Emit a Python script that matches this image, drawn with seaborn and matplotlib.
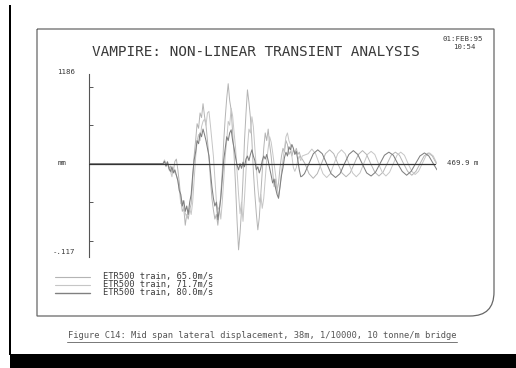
import numpy as np
import pandas as pd
import seaborn as sns
import matplotlib.pyplot as plt
from matplotlib.path import Path
from matplotlib.patches import PathPatch, Rectangle

# ---- data (distance along track in m, mid span lateral displacement) ----
lead_x = [0.0]
lead_y = [0.0]

# forced part, sampled every 2 m from 100 m to 288 m
forced_x = np.arange(100, 290, 2)

s65_forced = [0, .004, -.002, .003, -.006, -.003, -.012, -.009, .003, .006,
              -.008, -.025, -.045, -.062, -.058, -.080, -.066, -.072, -.060, -.052,
              -.020, .010, .030, .052, .046, .066, .060, .078, .062, .050,
              .030, .008, -.020, -.045, -.060, -.072, -.066, -.080, -.062, -.040,
              -.010, .030, .060, .085, .104, .082, .070, .040, .010, -.030,
              -.075, -.112, -.090, -.060, -.020, .030, .065, .096, .080, .060,
              .030, -.010, -.040, -.065, -.086, -.070, -.040, -.010, .020, .040,
              .030, .045, .025, .010, -.010, -.030, -.020, -.035, -.025, -.005,
              .010, .020, .015, .030, .025, .012, .016, .010, .018, .014,
              .020, .012, .015, .008, .006]

s71_forced = [0, .005, -.004, .002, -.008, -.010, -.017, -.005, -.012, -.015,
              -.022, -.035, -.052, -.048, -.060, -.064, -.070, -.062, -.058, -.066,
              -.050, -.020, .008, .030, .038, .030, .048, .055, .058, .050,
              .066, .068, .050, .030, .010, -.020, -.048, -.060, -.056, -.072,
              -.050, -.020, .010, .030, .055, .050, .072, .062, .040, .020,
              -.010, -.040, -.065, -.050, -.075, -.045, -.010, .020, .045, .040,
              .061, .048, .020, -.005, -.030, -.050, -.040, -.058, -.045, -.020,
              .005, .020, .035, .028, .015, .000, -.015, -.030, -.043, -.030,
              -.010, .005, .020, .035, .040, .030, .025, .010, -.005, -.010,
              -.005, .005, .010, .004, .010]

s80_forced = [0, .003, -.003, .002, -.006, -.010, -.004, -.012, -.008, -.015,
              -.022, -.035, -.040, -.055, -.048, -.062, -.055, -.066, -.050, -.040,
              -.015, .005, .015, .030, .026, .040, .035, .045, .038, .030,
              .020, .010, -.010, -.030, -.045, -.055, -.050, -.073, -.060, -.045,
              -.020, .005, .020, .035, .030, .040, .044, .030, .020, .008,
              -.002, -.008, .000, -.006, .002, -.004, .006, .010, .004, .012,
              .018, .010, .004, -.008, -.004, -.012, -.006, .004, .010, .006,
              .012, .004, -.006, -.015, -.025, -.020, -.032, -.040, -.045, -.030,
              -.015, -.005, .008, .015, .010, .022, .018, .025, .020, .012,
              .016, .005, -.008, -.017, -.016]

# free vibration after the train has left
s65_free_x = [291.7, 297.2, 302.8, 308.3, 313.9, 319.4, 325.0, 330.5, 336.1, 341.6,
              347.2, 352.7, 358.3, 363.8, 369.4, 374.9, 380.5, 386.0, 391.6, 397.1,
              402.7, 408.2, 413.8, 419.3, 424.9, 430.4, 436.0, 441.5, 447.1, 452.6,
              458.2, 463.7, 469.3]
s65_free_y = [0, -.013, -.019, -.013, 0, .013, .018, .013, 0, -.012,
              -.017, -.012, 0, .012, .017, .012, 0, -.011, -.016, -.011,
              0, .011, .015, .011, 0, -.010, -.015, -.010, 0, .010,
              .014, .010, 0]

s71_free_x = [296, 301, 306, 311, 316, 321, 326, 331, 336, 341,
              346, 351, 356, 361, 366, 371, 376, 381, 386, 391,
              396, 401, 406, 411, 416, 421, 426, 431, 436, 440.5,
              445, 450, 455, 460, 465, 470]
s71_free_y = [.013, .019, .013, 0, -.013, -.018, -.013, 0, .013, .018,
              .013, 0, -.012, -.017, -.012, 0, .012, .016, .012, 0,
              -.011, -.016, -.011, 0, .011, .015, .011, 0, -.010, -.014,
              -.010, 0, .010, .014, .010, 0]

s80_free_x = [291, 297, 303, 309, 315, 321, 327, 333, 339, 345,
              351, 357, 363, 369, 375, 381, 387, 393, 399, 405,
              411, 417, 423, 429, 435, 441, 447, 453, 459, 465, 470]
s80_free_y = [-.013, 0, .013, .018, .013, 0, -.013, -.018, -.013, 0,
              .012, .017, .012, 0, -.012, -.016, -.011, 0, .011, .015,
              .011, 0, -.010, -.015, -.010, 0, .010, .014, .010, 0, -.008]

labels = ['ETR500 train, 65.0m/s', 'ETR500 train, 71.7m/s', 'ETR500 train, 80.0m/s']
colors = ['#b4b4b4', '#c6c6c6', '#808080']
widths = [0.7, 0.7, 0.75]

y_ticks = [-0.1, -0.05, 0.05, 0.1]


def build(forced, free_x, free_y):
    x = np.concatenate([lead_x, forced_x, free_x])
    y = np.concatenate([lead_y, forced, free_y])
    return pd.DataFrame({'x': x, 'y': y})


series = [build(s65_forced, s65_free_x, s65_free_y),
          build(s71_forced, s71_free_x, s71_free_y),
          build(s80_forced, s80_free_x, s80_free_y)]

sns.set_style("white")
plt.rcParams['font.family'] = ['DejaVu Sans Mono', 'DejaVu Sans']

W, H = 516, 368
fig = plt.figure(figsize=(W / 100, H / 100), dpi=100)

# overlay in pixel coordinates for the page decorations
page = fig.add_axes([0, 0, 1, 1])
page.set_xlim(0, W)
page.set_ylim(H, 0)
page.axis('off')

page.add_patch(Rectangle((9, 5), 2, 350, color='black', lw=0))
page.add_patch(Rectangle((10, 354), 506, 14, color='black', lw=0))

frame = Path([(37, 29), (494, 29), (494, 292), (494, 316), (470, 316), (37, 316), (37, 29)],
             [Path.MOVETO, Path.LINETO, Path.LINETO, Path.CURVE3, Path.CURVE3,
              Path.LINETO, Path.LINETO])
page.add_patch(PathPatch(frame, fill=False, edgecolor='#666666', lw=0.9))

tc = '#3a3a3a'
page.text(256, 52, 'VAMPIRE: NON-LINEAR TRANSIENT ANALYSIS', ha='center', va='center',
          fontsize=10.4, color=tc)
page.text(463, 39, '01:FEB:95', ha='center', va='center', fontsize=5.3, color=tc)
page.text(464, 47, '10:54', ha='center', va='center', fontsize=5.3, color=tc)
page.text(75, 72, '1186', ha='right', va='center', fontsize=5.3, color=tc)
page.text(75, 252, '-.117', ha='right', va='center', fontsize=5.3, color=tc)
page.text(58, 163, 'mm', ha='left', va='center', fontsize=5.3, color=tc)
page.text(447, 163, '469.9 m', ha='left', va='center', fontsize=5.3, color=tc)

for i, (lab, c) in enumerate(zip(labels, colors)):
    yy = 277 + i * 7.8
    page.plot([55, 90], [yy, yy], color=c, lw=1.0 if i == 2 else 0.8)
    page.text(103, yy, lab, ha='left', va='center', fontsize=6.3, color=tc)

page.text(68, 336, 'Figure C14: Mid span lateral displacement, 38m, 1/10000, 10 tonne/m bridge',
          ha='left', va='center', fontsize=6.3, color='#555555')
page.plot([67, 457], [341.5, 341.5], color='#777777', lw=0.7)

# main chart
ax = fig.add_axes([89 / W, 1 - 257 / H, 348 / W, 183 / H])
ax.patch.set_alpha(0)
for df, c, lw in zip(series, colors, widths):
    sns.lineplot(data=df, x='x', y='y', ax=ax, color=c, lw=lw,
                 estimator=None, sort=False)
ax.axhline(0, xmin=0, xmax=467 / 470, color='#333333', lw=0.9, zorder=5)

ax.set_xlim(0, 470)
ax.set_ylim(-0.1213, 0.1166)
ax.set_yticks(y_ticks)
ax.set_xticks([])
ax.tick_params(axis='y', left=True, direction='in', length=3, width=0.7,
               color='#555555', labelleft=False)
ax.set_xlabel('')
ax.set_ylabel('')
for side in ['top', 'right', 'bottom']:
    ax.spines[side].set_visible(False)
ax.spines['left'].set_color('#555555')
ax.spines['left'].set_linewidth(0.8)

fig.savefig('out.png', dpi=100)
